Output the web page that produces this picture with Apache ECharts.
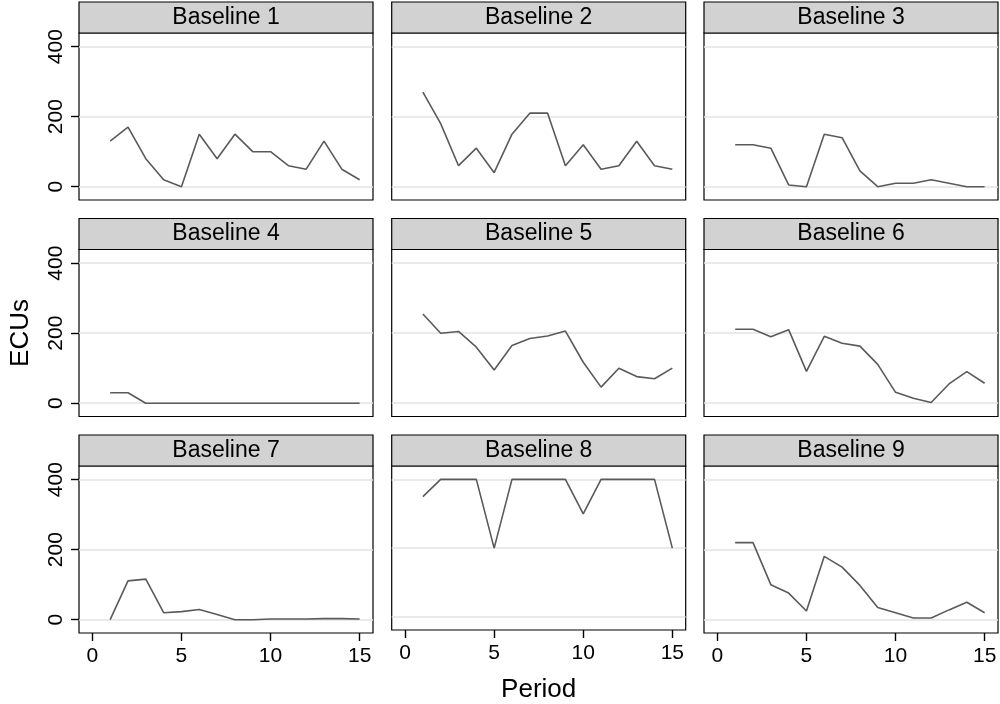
<!DOCTYPE html>
<html>
<head>
<meta charset="utf-8">
<script src="https://cdn.jsdelivr.net/npm/echarts@6/dist/echarts.min.js"></script>
<style>
html,body{margin:0;padding:0;background:#fff;}
#chart{width:1000px;height:704px;}
</style>
</head>
<body>
<div id="chart"></div>
<script>
const periods = [1,2,3,4,5,6,7,8,9,10,11,12,13,14,15];
const panelTitles = ['Baseline 1','Baseline 2','Baseline 3','Baseline 4','Baseline 5','Baseline 6','Baseline 7','Baseline 8','Baseline 9'];
const baseline1 = [130,170,80,20,0,150,80,150,100,100,60,50,130,50,20];
const baseline2 = [270,180,60,110,40,150,210,210,60,120,50,60,130,60,50];
const baseline3 = [120,120,110,5,0,150,140,45,0,10,10,20,10,0,0];
const baseline4 = [30,30,0,0,0,0,0,0,0,0,0,0,0,0,0];
const baseline5 = [255,200,205,160,95,165,185,192,206,117,46,100,76,70,100];
const baseline6 = [211,211,190,210,91,191,171,163,111,31,14,2,55,90,57];
const baseline7 = [0,111,116,20,23,29,15,0,0,2,2,2,3,3,2];
const baseline8 = [350,400,400,400,200,400,400,400,400,300,400,400,400,400,200];
const baseline9 = [220,220,100,76,25,181,150,98,35,20,5,5,28,50,20];
const xTicks = [0,5,10,15];
const yTicks = [0,200,400];
const xTitle = 'Period';
const yTitle = 'ECUs';

const allSeries = [baseline1,baseline2,baseline3,baseline4,baseline5,baseline6,baseline7,baseline8,baseline9];

// layout
const colLeft = [79, 391.7, 704];
const rowTop = [33, 249.5, 466];
const plotW = 294;
const plotH = 167;
const stripH = 31;
const FONT = 'Liberation Sans, Arial, Helvetica, sans-serif';

const grids = [], xAxes = [], yAxes = [], series = [], graphics = [];
for (let i = 0; i < 9; i++) {
  const r = Math.floor(i / 3), c = i % 3;
  grids.push({
    left: colLeft[c], top: rowTop[r], width: plotW, height: plotH,
    show: true, borderColor: '#000', borderWidth: 1.2, backgroundColor: '#fff'
  });
  const bottomRow = r === 2;
  xAxes.push({
    type: 'value', gridIndex: i, min: -0.75, max: 15.75, position: 'bottom',
    axisLine: {show: false, onZero: false},
    axisTick: {show: bottomRow, inside: false, length: 8, lineStyle: {color: '#000', width: 1.4}, customValues: xTicks},
    axisLabel: {show: bottomRow, customValues: xTicks, color: '#000', fontSize: 21, fontFamily: FONT, margin: 13},
    splitLine: {show: false},
    name: (r === 2 && c === 1) ? xTitle : '',
    nameLocation: 'middle', nameGap: 47,
    nameTextStyle: {color: '#000', fontSize: 26, fontFamily: FONT}
  });
  const leftCol = c === 0;
  yAxes.push({
    type: 'value', gridIndex: i, min: -38, max: 439, position: 'left',
    axisLine: {show: false, onZero: false},
    axisTick: {show: leftCol, inside: false, length: 8, lineStyle: {color: '#000', width: 1.4}, customValues: yTicks},
    axisLabel: {show: leftCol, customValues: yTicks, rotate: 90, color: '#000', fontSize: 21, fontFamily: FONT, margin: 12},
    splitLine: {show: true, lineStyle: {color: '#e3e3e3', width: 1.6}},
    name: (r === 1 && c === 0) ? yTitle : '',
    nameLocation: 'middle', nameGap: 45, nameRotate: 90,
    nameTextStyle: {color: '#000', fontSize: 26, fontFamily: FONT}
  });
  series.push({
    type: 'line', xAxisIndex: i, yAxisIndex: i,
    data: periods.map((p, k) => [p, allSeries[i][k]]),
    showSymbol: false, symbol: 'none',
    lineStyle: {color: '#5a5a5a', width: 1.6},
    animation: false
  });
  graphics.push({
    type: 'rect',
    shape: {x: colLeft[c], y: rowTop[r] - stripH, width: plotW, height: stripH},
    style: {fill: '#d2d2d2', stroke: '#000', lineWidth: 1.2}
  });
  graphics.push({
    type: 'text',
    x: colLeft[c] + plotW / 2, y: rowTop[r] - stripH / 2,
    style: {text: panelTitles[i], fill: '#000', fontSize: 23, fontFamily: FONT, align: 'center', verticalAlign: 'middle'}
  });
}

const chart = echarts.init(document.getElementById('chart'), null, {renderer: 'canvas'});
chart.setOption({
  animation: false,
  backgroundColor: '#fff',
  grid: grids,
  xAxis: xAxes,
  yAxis: yAxes,
  series: series,
  graphic: graphics
});
</script>
</body>
</html>
